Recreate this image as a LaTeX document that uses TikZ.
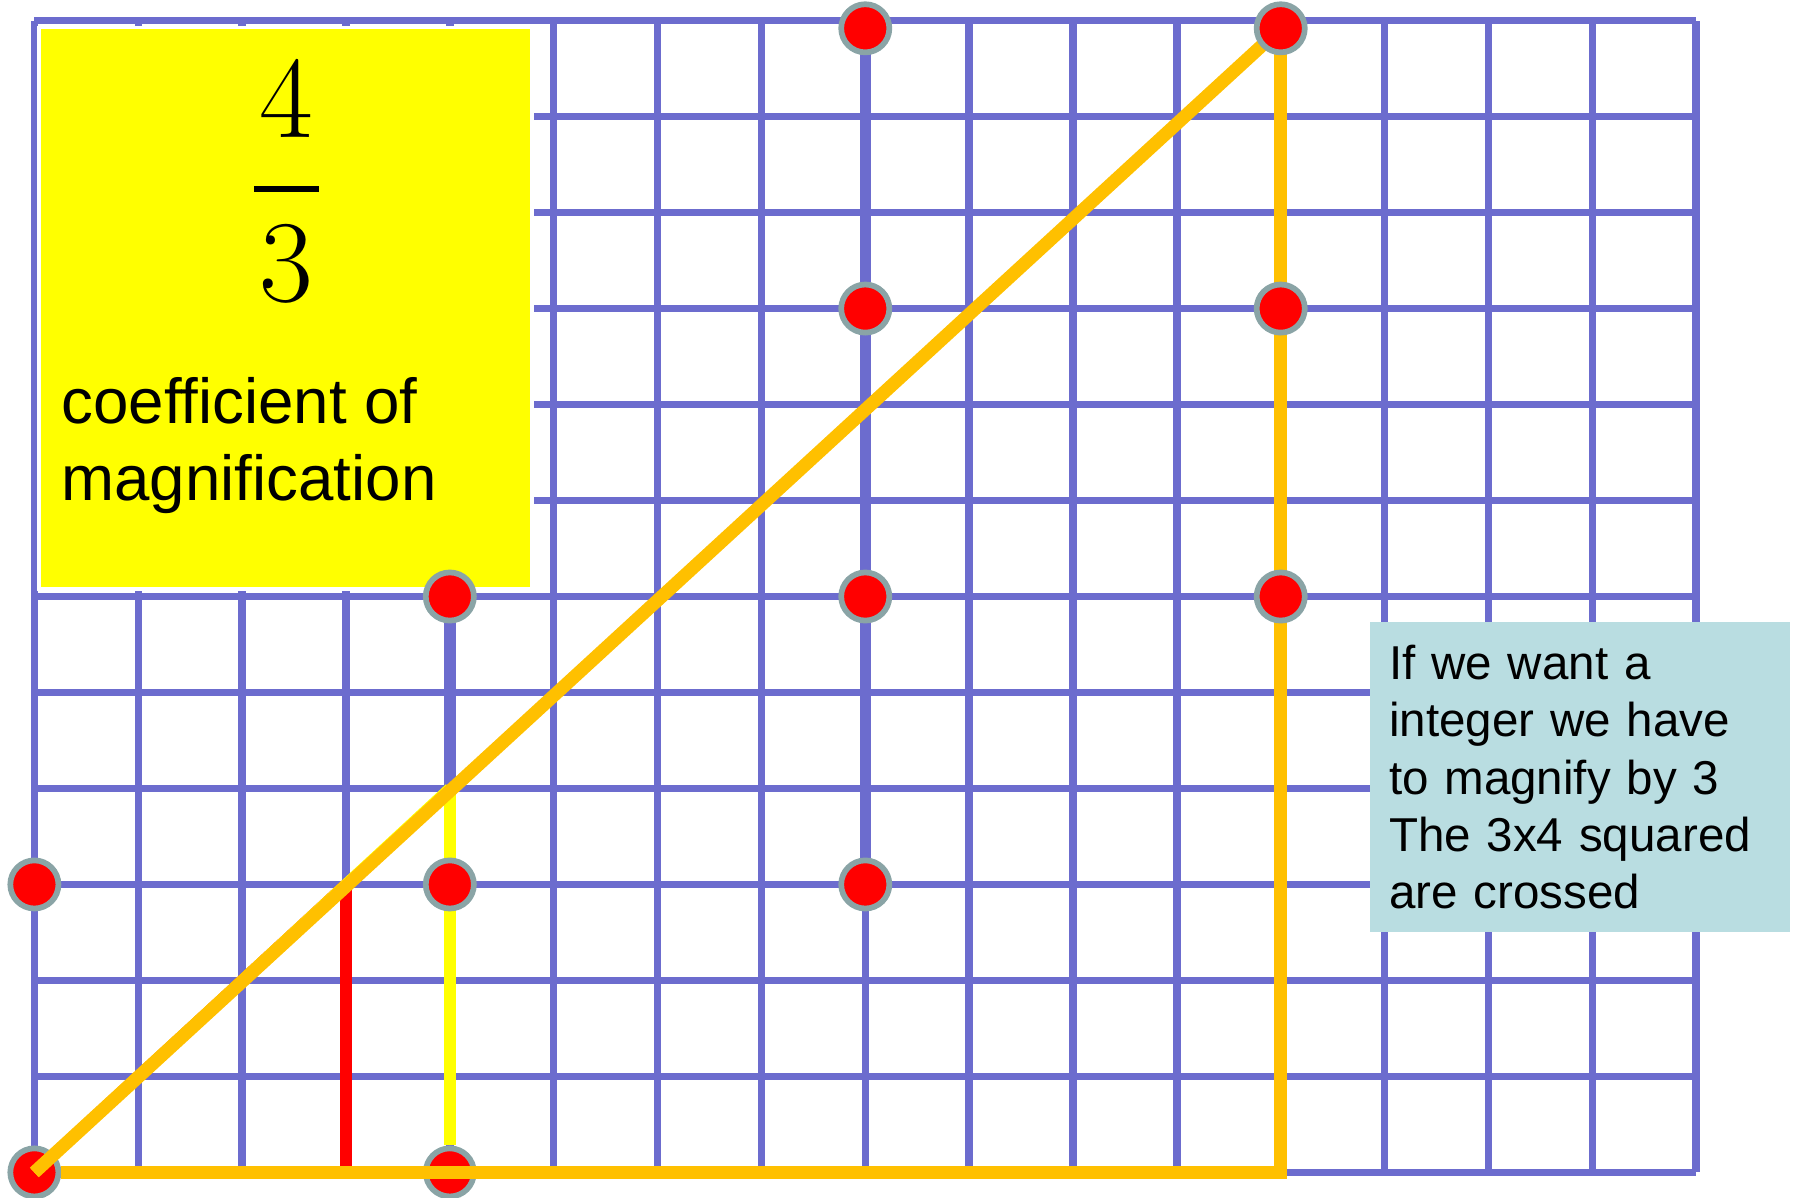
\documentclass[tikz,border=0pt]{standalone}
\usepackage{fontspec}
\setsansfont{Liberation Sans}
\usetikzlibrary{positioning,backgrounds,calc}

\definecolor{gridblue}{RGB}{108,108,206}
\definecolor{ambar}{RGB}{255,192,0}
\definecolor{padyellow}{RGB}{255,255,0}
\definecolor{pinred}{RGB}{255,0,0}
\definecolor{dotrim}{RGB}{138,164,166}
\definecolor{notecyan}{RGB}{185,221,225}

\begin{document}
\begin{tikzpicture}[
  x=0.90625cm, y=0.8375cm,
  font=\sffamily,
  gridline/.style={gridblue,line width=0.65mm},
  gridbold/.style={gridblue,line width=1.0mm},
  magbox/.style={rectangle,fill=padyellow,draw=white,line width=0.3mm,inner sep=0pt,
                 minimum width=4.3cm,minimum height=4.9cm},
  ratio/.style={inner sep=0pt,font=\rmfamily\fontsize{29}{34}\selectfont},
  maglabel/.style={inner sep=0pt,align=left,font=\sffamily\fontsize{15.8}{19.1}\selectfont},
  notebox/.style={rectangle,fill=notecyan,inner xsep=1.7mm,inner ysep=0pt,
                  minimum width=3.67cm,minimum height=2.70cm,text width=3.33cm,
                  align=left,font=\sffamily\fontsize{11.8}{14.2}\selectfont},
  reddot/.style={circle,fill=pinred,draw=dotrim,line width=0.5mm,minimum size=4.2mm,inner sep=0pt},
  redline/.style={pinred,line width=1.0mm},
  yelline/.style={padyellow,line width=1.0mm},
  ambline/.style={ambar,line width=1.15mm}
]
\useasboundingbox (-0.331,-0.2627) rectangle (16.971,12.215);

%% ================= the squared paper =================
\begin{scope}[on background layer]
  \draw[gridline,step={(1,1)}] (0,0) grid (16,12);
  \node[reddot] (o) at (0,0) {};
  \node[reddot] (a) at (4,0) {};
\end{scope}

%% ================= the two notes =================
\node[magbox] (mag) at (2.417,9.003) {};
\node[ratio,anchor=base] (num) at (2.428,10.782) {4};
\node[ratio,anchor=base] (den) at (2.428,9.075) {3};
\draw[line width=0.55mm] (2.119,10.245) -- (2.737,10.245);
\node[maglabel,anchor=base west] (coef) at (0.254,6.997) {coefficient of\\magnification};

\node[notebox] (note) at (14.88,4.119)
  {If we want a\\integer we have\\to magnify by 3\\The 3x4 squared\\are crossed};

%% ================= the points =================
\foreach \n/\x/\y in {b/0/3, c/4/3, d/4/6, e/8/6, h/8/3, f/8/9, g/8/11.92,
                      i/12/11.92, j/12/9, k/12/6}
  \node[reddot] (\n) at (\x,\y) {};

\coordinate (r0) at (3,0);
\coordinate (r3) at (3,3);
\coordinate (y4) at (4,4);
\coordinate (br) at (12,0);

%% ================= the triangles =================
\begin{scope}[on background layer]
  \draw[gridbold] (c.center) -- (d.center);
  \draw[gridbold] (h.center) -- (g.center);
  \draw[redline,shift={(-0.25mm,0.3mm)}] (o.center) -- (r3);
  \draw[yelline,shift={(-0.3mm,0.35mm)}] (o.center) -- (y4);
  \draw[redline] (r0) -- (r3);
  \draw[yelline] (a) -- (y4);
  \draw[ambline] (o) -- (br) -- (i.center);
  \draw[ambline] (o.center) -- (i.center);
\end{scope}

\end{tikzpicture}
\end{document}
